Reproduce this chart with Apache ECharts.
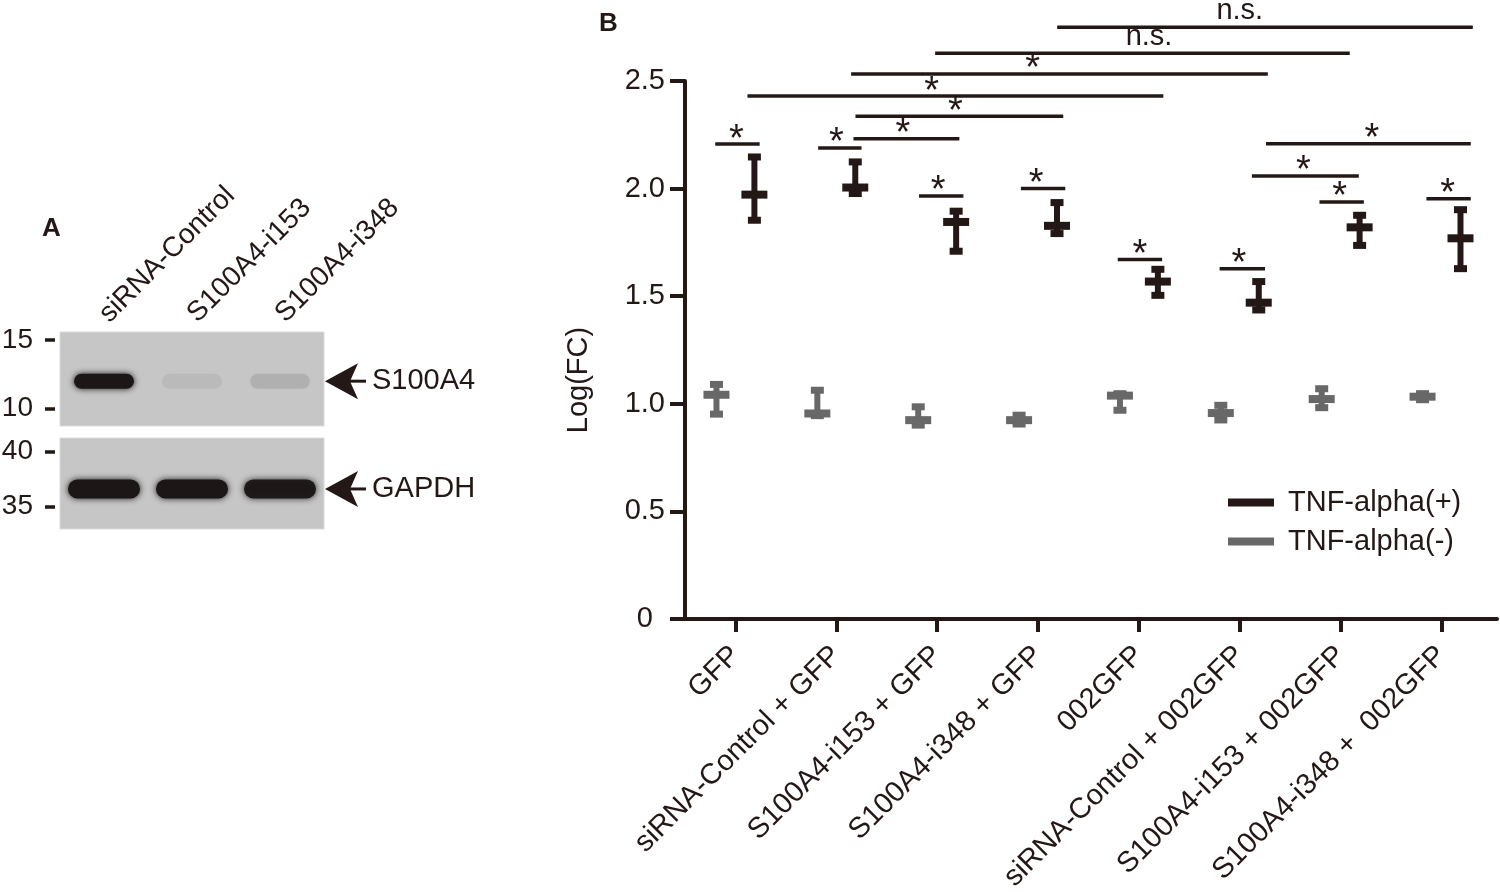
<!DOCTYPE html>
<html>
<head>
<meta charset="utf-8">
<title>S100A4 knockdown and Log(FC)</title>
<script src="https://cdn.jsdelivr.net/npm/echarts@6/dist/echarts.min.js"></script>
<style>
  html, body { margin: 0; padding: 0; background: #fff; }
  #chart { width: 1500px; height: 892px; }
</style>
</head>
<body>
<div id="chart"></div>
<script>
// ---- data ----
const groups = [
    'GFP', 'siRNA-Control + GFP', 'S100A4-i153 + GFP', 'S100A4-i348 + GFP',
    '002GFP', 'siRNA-Control + 002GFP', 'S100A4-i153 + 002GFP', 'S100A4-i348 +  002GFP'
];
// TNF-alpha(+) : mean and error bar ends
const plusMean = [1.972, 2.005, 1.845, 1.827, 1.568, 1.470, 1.820, 1.769];
const plusLow  = [1.853, 1.977, 1.709, 1.791, 1.504, 1.436, 1.736, 1.628];
const plusHigh = [2.147, 2.124, 1.895, 1.935, 1.625, 1.568, 1.876, 1.902];
// TNF-alpha(-)
const minusMean = [1.042, 0.955, 0.924, 0.924, 1.038, 0.957, 1.022, 1.033];
const minusLow  = [0.952, 0.945, 0.901, 0.906, 0.970, 0.925, 0.982, 1.019];
const minusHigh = [1.090, 1.063, 0.986, 0.947, 1.047, 0.993, 1.070, 1.047];

// significance brackets (x in group units, level in Log(FC))
const sigStart  = [4.19, 2.98, 2.147, 1.119, 2.19, 2.17, 0.80, 1.82, 2.82, 3.83, 4.79, 5.80, 6.79, 7.85, 6.12, 6.26];
const sigEnd    = [8.31, 7.09, 6.278, 5.242, 4.25, 3.22, 1.24, 2.25, 3.26, 4.27, 5.23, 6.25, 7.23, 8.29, 7.18, 8.29];
const sigLevel  = [2.750, 2.629, 2.533, 2.430, 2.336, 2.232, 2.207, 2.189, 1.966, 2.000, 1.671, 1.628, 1.938, 1.953, 2.059, 2.208];
const sigTextAt = [6.00, 5.10, 3.946, 2.944, 3.18, 2.66, 1.01, 2.00, 3.01, 3.98, 5.01, 5.99, 6.99, 8.06, 6.63, 7.31];
const sigText   = ['n.s.', 'n.s.', '*', '*', '*', '*', '*', '*', '*', '*', '*', '*', '*', '*', '*', '*'];

// western blot (panel A)
const lanes = ['siRNA-Control', 'S100A4-i153', 'S100A4-i348'];
const blotTargets = ['S100A4', 'GAPDH'];
const bandMw = [12.0, 36.6];            // kDa
const s100a4Level = [1.0, 0.07, 0.11];  // band darkness
const gapdhLevel = [1.0, 1.0, 0.95];
const upperMarkers = [10, 15];
const lowerMarkers = [35, 40];

// ---- styles ----
const INK = '#231815';
const GREY = '#686868';
const FONT = 'Liberation Sans, Arial, sans-serif';
const OFFSET = 0.188;   // half distance between the two points of a group

const chart = echarts.init(document.getElementById('chart'));

function errorBar(offset, color) {
    return function (params, api) {
        const x = api.value(0) + offset;
        const pm = api.coord([x, api.value(1)]);
        const pl = api.coord([x, api.value(2)]);
        const ph = api.coord([x, api.value(3)]);
        const cx = pm[0];
        const st = { fill: color };
        return {
            type: 'group',
            children: [
                { type: 'rect', shape: { x: cx - 3, y: ph[1], width: 6, height: pl[1] - ph[1] }, style: st },
                { type: 'rect', shape: { x: cx - 6.5, y: ph[1] - 3.5, width: 13, height: 7 }, style: st },
                { type: 'rect', shape: { x: cx - 6.5, y: pl[1] - 3.5, width: 13, height: 7 }, style: st },
                { type: 'rect', shape: { x: cx - 13, y: pm[1] - 4, width: 26, height: 8 }, style: st }
            ]
        };
    };
}

function sigRender(params, api) {
    const p1 = api.coord([api.value(0), api.value(2)]);
    const p2 = api.coord([api.value(1), api.value(2)]);
    const pt = api.coord([api.value(3), api.value(2)]);
    const label = sigText[params.dataIndex];
    const isStar = label === '*';
    return {
        type: 'group',
        children: [
            { type: 'rect', shape: { x: p1[0], y: p1[1] - 1.75, width: p2[0] - p1[0], height: 3.5 }, style: { fill: INK } },
            {
                type: 'text',
                style: {
                    text: label, x: pt[0], y: isStar ? p1[1] - 4 : p1[1] - 2,
                    align: 'center', verticalAlign: isStar ? 'middle' : 'bottom',
                    font: (isStar ? '38px ' : '29px ') + FONT, fill: INK
                }
            }
        ]
    };
}

function bandRender(width, height, levels) {
    return function (params, api) {
        const c = api.coord([api.value(0), api.value(1)]);
        const a = levels[params.dataIndex];
        const col = 'rgba(28,22,22,' + a + ')';
        return {
            type: 'rect',
            shape: { x: c[0] - width / 2, y: c[1] - height / 2, width: width, height: height, r: height / 2 },
            style: { fill: col, shadowBlur: 6, shadowColor: col }
        };
    };
}

function arrowRender(label) {
    return function (params, api) {
        const y = api.coord([0, api.value(1)])[1];
        const x0 = params.coordSys.x + params.coordSys.width + 1;
        return {
            type: 'group',
            children: [
                { type: 'polygon', shape: { points: [[x0, y], [x0 + 33, y - 18], [x0 + 25, y], [x0 + 33, y + 18]] }, style: { fill: INK } },
                { type: 'line', shape: { x1: x0 + 22, y1: y, x2: x0 + 41, y2: y }, style: { stroke: INK, lineWidth: 3 } },
                { type: 'text', style: { text: label, x: x0 + 47, y: y, verticalAlign: 'middle', font: '29px ' + FONT, fill: INK } }
            ]
        };
    };
}

const axisText = { color: INK, fontFamily: FONT, fontSize: 29 };

chart.setOption({
    backgroundColor: '#fff',
    animation: false,
    textStyle: { fontFamily: FONT },
    graphic: [
        { type: 'text', left: 42, top: 216, style: { text: 'A', font: 'bold 26px ' + FONT, fill: INK } },
        { type: 'text', left: 599, top: 11, style: { text: 'B', font: 'bold 26px ' + FONT, fill: INK } }
    ],
    legend: {
        orient: 'vertical',
        left: 1228,
        top: 488,
        padding: 0,
        itemWidth: 46,
        itemHeight: 8,
        itemGap: 10,
        selectedMode: false,
        textStyle: { color: INK, fontSize: 29, fontFamily: FONT, padding: [0, 0, 0, 9] },
        data: [
            { name: 'TNF-alpha(+)', icon: 'rect' },
            { name: 'TNF-alpha(-)', icon: 'rect' }
        ]
    },
    grid: [
        { left: 685, top: 81, width: 812, height: 538, outerBoundsMode: 'none' },
        { left: 60, top: 332, width: 264, height: 94, outerBoundsMode: 'none', show: true, backgroundColor: '#c6c6c6', borderColor: '#dadada', borderWidth: 1 },
        { left: 60, top: 438, width: 264, height: 91, outerBoundsMode: 'none', show: true, backgroundColor: '#c6c6c6', borderColor: '#dadada', borderWidth: 1 }
    ],
    xAxis: [
        {
            type: 'value', gridIndex: 0, min: 0.5, max: 8.55,
            axisLine: { lineStyle: { color: INK, width: 4 } },
            axisTick: { customValues: groups.map((g, i) => i + 1), length: 13, lineStyle: { color: INK, width: 4 } },
            axisLabel: Object.assign({
                customValues: groups.map((g, i) => i + 1), rotate: 45, margin: 32,
                formatter: (v) => groups[Math.round(v) - 1]
            }, axisText),
            splitLine: { show: false }
        },
        {
            type: 'category', gridIndex: 1, data: lanes, position: 'top',
            axisLine: { show: false }, axisTick: { show: false },
            axisLabel: Object.assign({ rotate: -45, margin: 14 }, axisText, { fontSize: 28 })
        },
        { type: 'category', gridIndex: 2, data: lanes, show: false }
    ],
    yAxis: [
        {
            type: 'value', gridIndex: 0, min: 0, max: 2.5, interval: 0.5,
            name: 'Log(FC)', nameLocation: 'middle', nameGap: 92, nameRotate: 90,
            nameTextStyle: Object.assign({ padding: [0, 60, 0, 0] }, axisText),
            axisLine: { show: true, lineStyle: { color: INK, width: 4 } },
            axisTick: { show: true, length: 15, lineStyle: { color: INK, width: 4 } },
            axisLabel: Object.assign({
                margin: 20,
                formatter: (v) => (v === 0 ? '{z|0}' : v.toFixed(1)),
                rich: { z: Object.assign({ padding: [0, 12, 0, 0] }, axisText) }
            }, axisText),
            splitLine: { show: false }
        },
        {
            type: 'value', gridIndex: 1, min: 8.72, max: 15.6, offset: 5,
            axisLine: { show: false },
            axisTick: { show: true, customValues: upperMarkers, length: 10, lineStyle: { color: INK, width: 3.5 } },
            axisLabel: Object.assign({ customValues: upperMarkers, margin: 22 }, axisText, { fontSize: 28 }),
            splitLine: { show: false }
        },
        {
            type: 'value', gridIndex: 2, min: 32.97, max: 41.22, offset: 5,
            axisLine: { show: false },
            axisTick: { show: true, customValues: lowerMarkers, length: 10, lineStyle: { color: INK, width: 3.5 } },
            axisLabel: Object.assign({ customValues: lowerMarkers, margin: 22 }, axisText, { fontSize: 28 }),
            splitLine: { show: false }
        }
    ],
    series: [
        {
            name: 'TNF-alpha(-)', type: 'custom', xAxisIndex: 0, yAxisIndex: 0,
            itemStyle: { color: GREY },
            renderItem: errorBar(-OFFSET, GREY),
            data: groups.map((g, i) => [i + 1, minusMean[i], minusLow[i], minusHigh[i]])
        },
        {
            name: 'TNF-alpha(+)', type: 'custom', xAxisIndex: 0, yAxisIndex: 0,
            itemStyle: { color: INK },
            renderItem: errorBar(OFFSET, INK),
            data: groups.map((g, i) => [i + 1, plusMean[i], plusLow[i], plusHigh[i]])
        },
        {
            name: 'significance', type: 'custom', xAxisIndex: 0, yAxisIndex: 0, clip: false,
            renderItem: sigRender,
            data: sigStart.map((s, i) => [s, sigEnd[i], sigLevel[i], sigTextAt[i]])
        },
        // Panel A: blot bands
        {
            type: 'custom', xAxisIndex: 1, yAxisIndex: 1,
            renderItem: bandRender(60, 15, s100a4Level),
            data: lanes.map((l, i) => [i, bandMw[0]])
        },
        {
            type: 'custom', xAxisIndex: 2, yAxisIndex: 2,
            renderItem: bandRender(72, 19, gapdhLevel),
            data: lanes.map((l, i) => [i, bandMw[1]])
        },
        {
            type: 'custom', xAxisIndex: 1, yAxisIndex: 1, clip: false,
            renderItem: arrowRender(blotTargets[0]),
            data: [[lanes.length - 1, bandMw[0]]]
        },
        {
            type: 'custom', xAxisIndex: 2, yAxisIndex: 2, clip: false,
            renderItem: arrowRender(blotTargets[1]),
            data: [[lanes.length - 1, bandMw[1]]]
        }
    ]
});
</script>
</body>
</html>
